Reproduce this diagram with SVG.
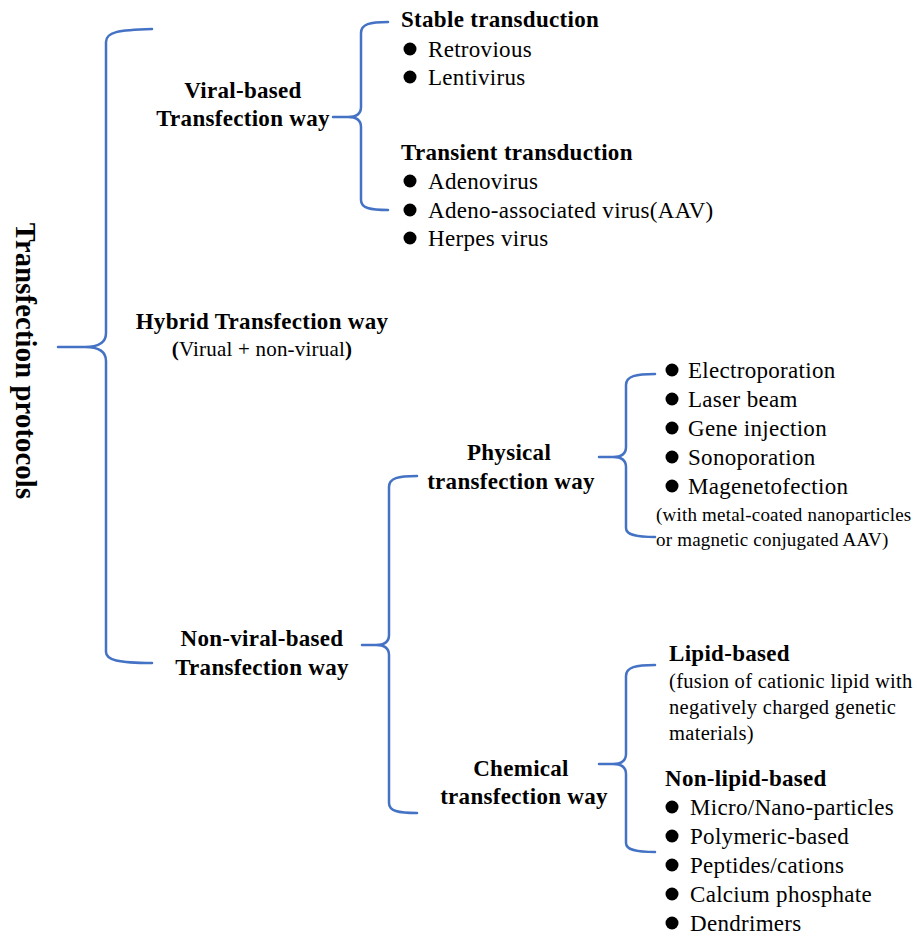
<svg xmlns="http://www.w3.org/2000/svg" width="917" height="936" viewBox="0 0 917 936">
<style>
text{font-family:"Liberation Serif","Times New Roman",serif;fill:#000}
.h{font-weight:bold;font-size:23px;letter-spacing:0.3px}
.c{text-anchor:middle}
.t{font-size:23px;letter-spacing:0.3px}
.s{font-size:19px;letter-spacing:0.2px}
.l{font-size:20.5px;letter-spacing:0.3px}
.p{font-size:21px;letter-spacing:0.2px}
.title{font-weight:bold;font-size:28.5px;letter-spacing:0.2px;text-anchor:middle}
.br{fill:none;stroke:#4472C4;stroke-width:2.5;stroke-linecap:round;stroke-linejoin:round}
.b{fill:#000}
</style>
<rect width="917" height="936" fill="#fff"/>
<g id="connectors">
<path class="br" d="M152,29 C118,30 106,32 106,42 L106,333 C106,343 98,347 85,347 L58,347 M85,347 C98,347 106,351 106,361 L106,652 C106,660 118,663 152,663"/>
<path class="br" d="M388,22 C370,22 361,24 361,33 L361,107 C361,114 356,117 348,117 L333,117 M348,117 C356,117 361,120 361,127 L361,200 C361,208 370,210 388,210"/>
<path class="br" d="M417,476 C398,476 389,478 389,487 L389,635 C389,642 384,645 376,645 L362,645 M376,645 C384,645 389,648 389,655 L389,803 C389,811 398,813 417,813"/>
<path class="br" d="M655,374 C636,374 626,376 626,385 L626,447 C626,454 621,457 613,457 L599,457 M613,457 C621,457 626,460 626,467 L626,528 C626,535 636,537 655,537"/>
<path class="br" d="M655,665 C636,665 626,667 626,676 L626,754 C626,761 621,764 613,764 L599,764 M613,764 C621,764 626,767 626,774 L626,843 C626,850 636,852 655,852"/>
</g>
<g id="root">
<text class="title" transform="translate(16,361) rotate(90)">Transfection  protocols</text>
</g>
<g id="viral">
<text class="h c" x="243" y="98">Viral-based</text>
<text class="h c" x="243" y="126">Transfection way</text>
</g>
<g id="viral-children">
<text class="h" x="401" y="27">Stable transduction</text>
<circle class="b" cx="410" cy="49" r="6.5"/><text class="t" x="428" y="57">Retrovious</text>
<circle class="b" cx="410" cy="77" r="6.5"/><text class="t" x="428" y="85">Lentivirus</text>
<text class="h" x="401" y="160">Transient transduction</text>
<circle class="b" cx="410" cy="181" r="6.5"/><text class="t" x="428" y="189">Adenovirus</text>
<circle class="b" cx="410" cy="210" r="6.5"/><text class="t" x="428" y="218">Adeno-associated virus(AAV)</text>
<circle class="b" cx="410" cy="238" r="6.5"/><text class="t" x="428" y="246">Herpes virus</text>
</g>
<g id="hybrid">
<text class="h c" x="262" y="329">Hybrid Transfection way</text>
<text class="p c" x="262" y="356"><tspan font-weight="bold">(</tspan>Virual + non-virual<tspan font-weight="bold">)</tspan></text>
</g>
<g id="nonviral">
<text class="h c" x="262" y="646">Non-viral-based</text>
<text class="h c" x="262" y="675">Transfection way</text>
</g>
<g id="physical">
<text class="h c" x="509" y="460">Physical</text>
<text class="h c" x="511" y="489">transfection way</text>
</g>
<g id="physical-children">
<circle class="b" cx="672" cy="370" r="6.5"/><text class="t" x="688" y="378">Electroporation</text>
<circle class="b" cx="672" cy="399" r="6.5"/><text class="t" x="688" y="407">Laser beam</text>
<circle class="b" cx="672" cy="428" r="6.5"/><text class="t" x="688" y="436">Gene injection</text>
<circle class="b" cx="672" cy="457" r="6.5"/><text class="t" x="688" y="465">Sonoporation</text>
<circle class="b" cx="672" cy="486" r="6.5"/><text class="t" x="688" y="494">Magenetofection</text>
<text class="s" x="656" y="521">(with metal-coated nanoparticles</text>
<text class="s" x="656" y="546">or magnetic conjugated AAV)</text>
</g>
<g id="chemical">
<text class="h c" x="521" y="776">Chemical</text>
<text class="h c" x="524" y="804">transfection way</text>
</g>
<g id="chemical-children">
<text class="h" x="669" y="661">Lipid-based</text>
<text class="l" x="669" y="688">(fusion of cationic lipid with</text>
<text class="l" x="669" y="714">negatively charged genetic</text>
<text class="l" x="669" y="740">materials)</text>
<text class="h" x="665" y="786">Non-lipid-based</text>
<circle class="b" cx="672" cy="807" r="6.5"/><text class="t" x="690" y="815">Micro/Nano-particles</text>
<circle class="b" cx="672" cy="836" r="6.5"/><text class="t" x="690" y="844">Polymeric-based</text>
<circle class="b" cx="672" cy="865" r="6.5"/><text class="t" x="690" y="873">Peptides/cations</text>
<circle class="b" cx="672" cy="894" r="6.5"/><text class="t" x="690" y="902">Calcium phosphate</text>
<circle class="b" cx="672" cy="923" r="6.5"/><text class="t" x="690" y="931">Dendrimers</text>
</g>
</svg>
